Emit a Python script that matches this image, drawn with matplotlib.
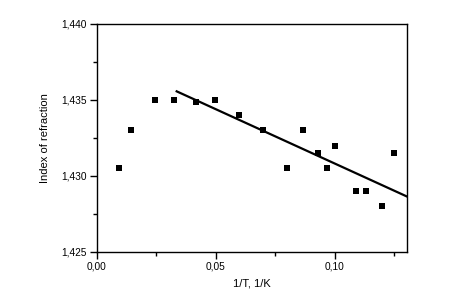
import matplotlib
matplotlib.use('Agg')
import matplotlib.pyplot as plt
from matplotlib.ticker import FuncFormatter, MultipleLocator

# measured points (1/T, refractive index)
inv_t = [0.0094, 0.0145, 0.0245, 0.0325, 0.0418, 0.0497, 0.0598, 0.0700,
         0.0800, 0.0868, 0.0931, 0.0969, 0.1001, 0.1090, 0.1130, 0.1200,
         0.1250]
index = [1.4305, 1.4330, 1.4350, 1.4350, 1.4349, 1.4350, 1.4340, 1.4330,
         1.4305, 1.4330, 1.4315, 1.4305, 1.4320, 1.4290, 1.4290, 1.4280,
         1.4315]

# linear fit line end points
fit_x = [0.0336, 0.1305]
fit_y = [1.43557, 1.42864]


def comma(fmt):
    return FuncFormatter(lambda v, p: (fmt % v).replace('.', ','))


def main():
    plt.rcParams['font.family'] = ['Liberation Sans', 'DejaVu Sans']
    fig = plt.figure(figsize=(4.73, 2.98), dpi=100)
    ax = fig.add_axes([96.7 / 473, 46 / 298, 310.6 / 473, 228 / 298])

    ax.plot(inv_t, index, 's', color='k', markersize=4.2, markeredgewidth=0)
    ax.plot(fit_x, fit_y, '-', color='k', linewidth=1.6)

    ax.set_xlim(0, 0.1305)
    ax.set_ylim(1.425, 1.440)
    ax.xaxis.set_major_locator(MultipleLocator(0.05))
    ax.xaxis.set_minor_locator(MultipleLocator(0.025))
    ax.yaxis.set_major_locator(MultipleLocator(0.005))
    ax.yaxis.set_minor_locator(MultipleLocator(0.0025))
    ax.xaxis.set_major_formatter(comma('%.2f'))
    ax.yaxis.set_major_formatter(comma('%.3f'))
    ax.tick_params(which='major', direction='out', length=5, width=1,
                   labelsize=7.3, pad=2)
    ax.tick_params(which='minor', direction='out', length=3, width=1)
    for s in ax.spines.values():
        s.set_linewidth(1)

    ax.set_xlabel('1/T, 1/K', fontsize=8, labelpad=5)
    ax.set_ylabel('Index of refraction', fontsize=8, labelpad=8)

    plt.savefig('out.png', dpi=100)
    plt.close()


if __name__ == '__main__':
    main()
